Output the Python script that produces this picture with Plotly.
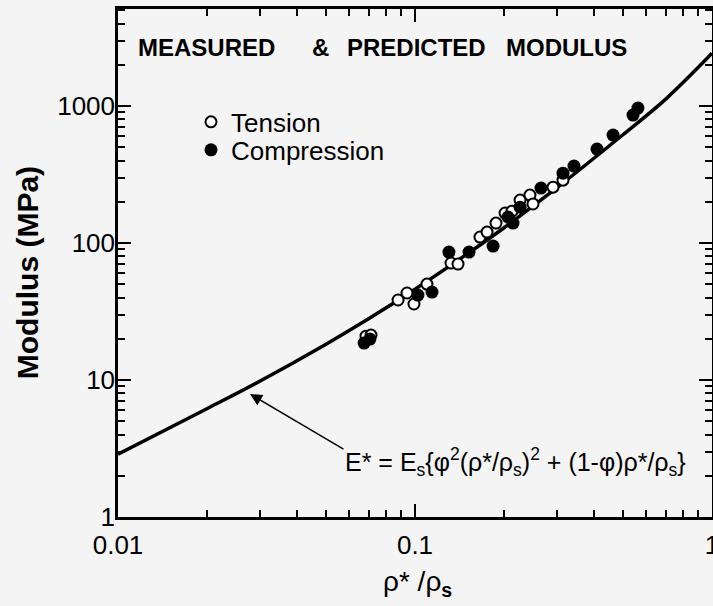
import plotly.graph_objects as go

tension_x = [0.0684, 0.0711, 0.0877, 0.0940, 0.0992, 0.1097, 0.1322, 0.1396, 0.1655,
             0.1748, 0.1874, 0.2010, 0.2122, 0.2258, 0.2438, 0.2496, 0.2916, 0.3150]
tension_E = [20.9, 21.3, 38.4, 43.2, 35.9, 50.2, 71.5, 70.3, 110.6,
             120.3, 140, 165.5, 171, 206, 224, 193, 256, 288]

compression_x = [0.0674, 0.0705, 0.1023, 0.1141, 0.1301, 0.1520, 0.1832, 0.2056, 0.2138,
                 0.2258, 0.2656, 0.3150, 0.3430, 0.4100, 0.4643, 0.5420, 0.5632]
compression_E = [18.6, 19.9, 41.7, 43.9, 86, 86, 95.1, 155, 140,
                 183, 252, 324, 365, 486, 614, 860, 967]

# Predicted curve
curve_x = [0.01, 0.02, 0.03, 0.05, 0.07, 0.1, 0.15, 0.2, 0.3, 0.5, 0.7, 1.0]
curve_E = [2.87, 6.2, 9.8, 18.2, 28.1, 46, 83.4, 130, 253, 615, 1130, 2430]

x_tickvals = [0.01, 0.1, 1]
x_ticktext = ["0.01", "0.1", "1"]
y_tickvals = [1, 10, 100, 1000]
y_ticktext = ["1", "10", "100", "1000"]

FONT = "Liberation Sans, Arial, Helvetica, sans-serif"
BG = "#f4f4f4"

W, H = 713, 606
L, R, T, B = 118, 1, 8.5, 89
pw, ph = W - L - R, H - T - B


def px2paper(px, py):
    return (px - L) / pw, (H - B - py) / ph


fig = go.Figure()
fig.add_trace(go.Scatter(x=curve_x, y=curve_E, mode="lines", line=dict(color="black", width=3.5, shape="spline"),
                         showlegend=False, hoverinfo="skip"))
fig.add_trace(go.Scatter(x=tension_x, y=tension_E, mode="markers", name="Tension", legend="legend",
                         marker=dict(symbol="circle", size=11, color="white", line=dict(color="black", width=2))))
fig.add_trace(go.Scatter(x=compression_x, y=compression_E, mode="markers", name="Compression", legend="legend2",
                         marker=dict(symbol="circle", size=13, color="black", line=dict(color="black", width=0))))

x_minor = [a * b for b in (0.01, 0.1) for a in range(2, 10)]
y_minor = [a * b for b in (1, 10, 100) for a in range(2, 10)] + [2000, 3000, 4000, 5000]

fig.update_xaxes(type="log", range=[-2, 0], tickvals=x_tickvals, ticktext=x_ticktext,
                 ticks="inside", ticklen=13, tickwidth=2, tickcolor="black",
                 minor=dict(tickvals=x_minor, ticks="inside", ticklen=7, tickwidth=1.5, tickcolor="black"),
                 showline=True, linecolor="black", linewidth=2.5, mirror="ticks",
                 showgrid=False, zeroline=False, ticklabelstandoff=3, ticklabeloverflow="allow",
                 tickfont=dict(family=FONT, size=26, color="black"))
fig.update_yaxes(type="log", range=[0, 3.709], tickvals=y_tickvals, ticktext=y_ticktext,
                 ticks="inside", ticklen=13, tickwidth=2, tickcolor="black",
                 minor=dict(tickvals=y_minor, ticks="inside", ticklen=7, tickwidth=1.5, tickcolor="black"),
                 showline=True, linecolor="black", linewidth=2.5, mirror="ticks",
                 showgrid=False, zeroline=False, ticklabelstandoff=-5, ticklabeloverflow="allow",
                 tickfont=dict(family=FONT, size=26, color="black"))

title_parts = [("MEASURED", 136), ("&", 310), ("PREDICTED", 345), ("MODULUS", 504)]
ann_list = []
for txt, px in title_parts:
    xp, yp = px2paper(px, 47)
    ann_list.append(dict(text="<b>" + txt + "</b>", xref="paper", yref="paper", x=xp, y=yp,
                         xanchor="left", yanchor="middle", showarrow=False,
                         font=dict(family=FONT, size=24, color="black")))

# y-axis title
xp, yp = px2paper(27, 273)
ann_list.append(dict(text="<b>Modulus (MPa)</b>", xref="paper", yref="paper", x=xp, y=yp,
                     textangle=-90, showarrow=False, xanchor="center", yanchor="middle",
                     font=dict(family=FONT, size=30, color="black")))
# x-axis title
xp, yp = px2paper(417, 584)
ann_list.append(dict(text="ρ* /ρ<sub><b>s</b></sub>", xref="paper", yref="paper", x=xp, y=yp,
                     showarrow=False, xanchor="center", yanchor="middle",
                     font=dict(family=FONT, size=28, color="black")))
# formula
ann_list.append(dict(text="E* = E<sub>s</sub>{φ<sup>2</sup>(ρ*/ρ<sub>s</sub>)<sup>2</sup> + (1-φ)ρ*/ρ<sub>s</sub>}",
                     xref="x", yref="y", x=(343 - 118) / 297 - 2, y=(517 - 462) / 137,
                     showarrow=False, xanchor="left", yanchor="middle",
                     font=dict(family=FONT, size=25, color="black")))
# arrow
ann_list.append(dict(text="", xref="x", yref="y", x=(250 - 118) / 297 - 2, y=(517 - 394) / 137,
                     showarrow=True, ax=95, ay=56, arrowhead=2, arrowsize=1.6, arrowwidth=1.5,
                     arrowcolor="black"))

leg_common = dict(xanchor="left", yanchor="top", bgcolor="rgba(0,0,0,0)",
                  font=dict(family=FONT, size=26, color="black"), itemsizing="trace")
lx, ly1 = px2paper(191, 98)
_, ly2 = px2paper(191, 126)

fig.update_layout(
    width=W, height=H,
    margin=dict(l=L, r=R, t=T, b=B, autoexpand=False),
    paper_bgcolor=BG, plot_bgcolor=BG,
    font=dict(family=FONT, color="black"),
    showlegend=True,
    legend=dict(x=lx, y=ly1, **leg_common),
    legend2=dict(x=lx, y=ly2, **leg_common),
    annotations=ann_list,
)

fig.write_html("out.html", config={"displayModeBar": False},
               post_script="document.body.style.margin='0';document.body.style.background='#f4f4f4';"
                           "document.documentElement.style.background='#f4f4f4';")
